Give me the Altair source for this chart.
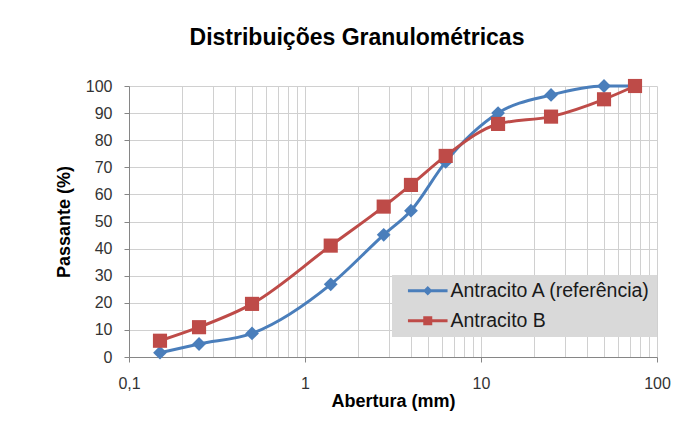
import altair as alt
import pandas as pd

aberturas = [0.15, 0.25, 0.5, 1.4, 2.8, 4, 6.3, 12.5, 25, 50, 75]
antracito_a = [1.6, 4.8, 8.7, 26.8, 45.1, 54, 72, 90, 96.7, 100, 100]
antracito_b = [6.0, 11.0, 19.6, 41.1, 55.5, 63.5, 74.2, 86.0, 88.7, 95.1, 100]
series_names = ["Antracito A (referência)", "Antracito B"]
series_colors = ["#4a7ebb", "#be4b48"]
x_major = [0.1, 1, 10, 100]
x_grid = [0.1, 0.2, 0.3, 0.4, 0.5, 0.6, 0.7, 0.8, 0.9,
          1, 2, 3, 4, 5, 6, 7, 8, 9,
          10, 20, 30, 40, 50, 60, 70, 80, 90, 100]
y_ticks = [0, 10, 20, 30, 40, 50, 60, 70, 80, 90, 100]

rows = []
for xv, a, b in zip(aberturas, antracito_a, antracito_b):
    rows.append({"x": xv, "y": a, "serie": series_names[0]})
    rows.append({"x": xv, "y": b, "serie": series_names[1]})
df = pd.DataFrame(rows)

FONT = "Liberation Sans"
color_scale = alt.Scale(domain=series_names, range=series_colors)
legend_paths = [
    "M-4.4,-0.34H4.4V0.34H-4.4Z M0,-1.05L1.05,0L0,1.05L-1.05,0Z",
    "M-4.4,-0.34H4.4V0.34H-4.4Z M-1,-1H1V1H-1Z",
]
shape_scale = alt.Scale(domain=series_names, range=legend_paths)
major_test = "indexof([0.1,1,10,100], datum.value) >= 0"

x_enc = alt.X(
    "x:Q",
    scale=alt.Scale(type="log", domain=[0.1, 100]),
    axis=alt.Axis(
        values=x_grid,
        title="Abertura (mm)",
        labelExpr=f"{major_test} ? replace(format(datum.value, '~g'), '.', ',') : ''",
        tickColor={"condition": {"test": major_test, "value": "#868686"}, "value": "transparent"},
        tickSize=5,
        labelPadding=13,
        titlePadding=1,
        labelFlush=False,
    ),
)
y_enc = alt.Y(
    "y:Q",
    scale=alt.Scale(domain=[0, 100]),
    axis=alt.Axis(values=y_ticks, title="Passante (%)", tickSize=5,
                  labelPadding=12, titlePadding=12),
)

base = alt.Chart(df)

layers = []
marker_shapes = ["diamond", "square"]
marker_sizes = [190, 200]
for name, col, shp, sz in zip(series_names, series_colors, marker_shapes, marker_sizes):
    sub = base.transform_filter(alt.datum.serie == name)
    layers.append(sub.mark_line(strokeWidth=3, interpolate="monotone", color=col)
                  .encode(x=x_enc, y=y_enc))
for name, col, shp, sz in zip(series_names, series_colors, marker_shapes, marker_sizes):
    sub = base.transform_filter(alt.datum.serie == name)
    layers.append(sub.mark_point(shape=shp, filled=True, size=sz, opacity=1, color=col)
                  .encode(x=x_enc, y=y_enc))

legend_props = dict(
    orient="none", legendX=263, legendY=189,
    fillColor="#d9d9d9", padding=6,
    symbolSize=81, symbolOffset=20, labelOffset=13,
    labelFontSize=19.5, labelFont=FONT, labelColor="#1a1a1a",
    rowPadding=9, labelLimit=400, symbolOpacity=1,
)
legend_layer = base.mark_point(filled=True, opacity=0).encode(
    x=x_enc, y=y_enc,
    color=alt.Color("serie:N", scale=color_scale, title=None,
                    legend=alt.Legend(**legend_props)),
    shape=alt.Shape("serie:N", scale=shape_scale, title=None,
                    legend=alt.Legend(**legend_props)),
)
layers.append(legend_layer)

chart = alt.layer(*layers).properties(
    width=528, height=271,
    title=alt.TitleParams("Distribuições Granulométricas", fontSize=23, font=FONT,
                          fontWeight="bold", color="#000000", anchor="middle",
                          dx=-36, offset=28),
    autosize=alt.AutoSizeParams(type="none"),
    padding={"left": 121, "top": 78, "right": 24, "bottom": 56},
).configure_axis(
    labelFont=FONT, labelFontSize=16, labelColor="#333333",
    titleFont=FONT, titleFontSize=18, titleFontWeight="bold", titleColor="#000000",
    gridColor="#d0d0d0", gridWidth=1, domainColor="#868686", tickColor="#868686",
).configure_view(stroke=None)

chart.save("out.html", embed_options={"renderer": "svg", "actions": False})
